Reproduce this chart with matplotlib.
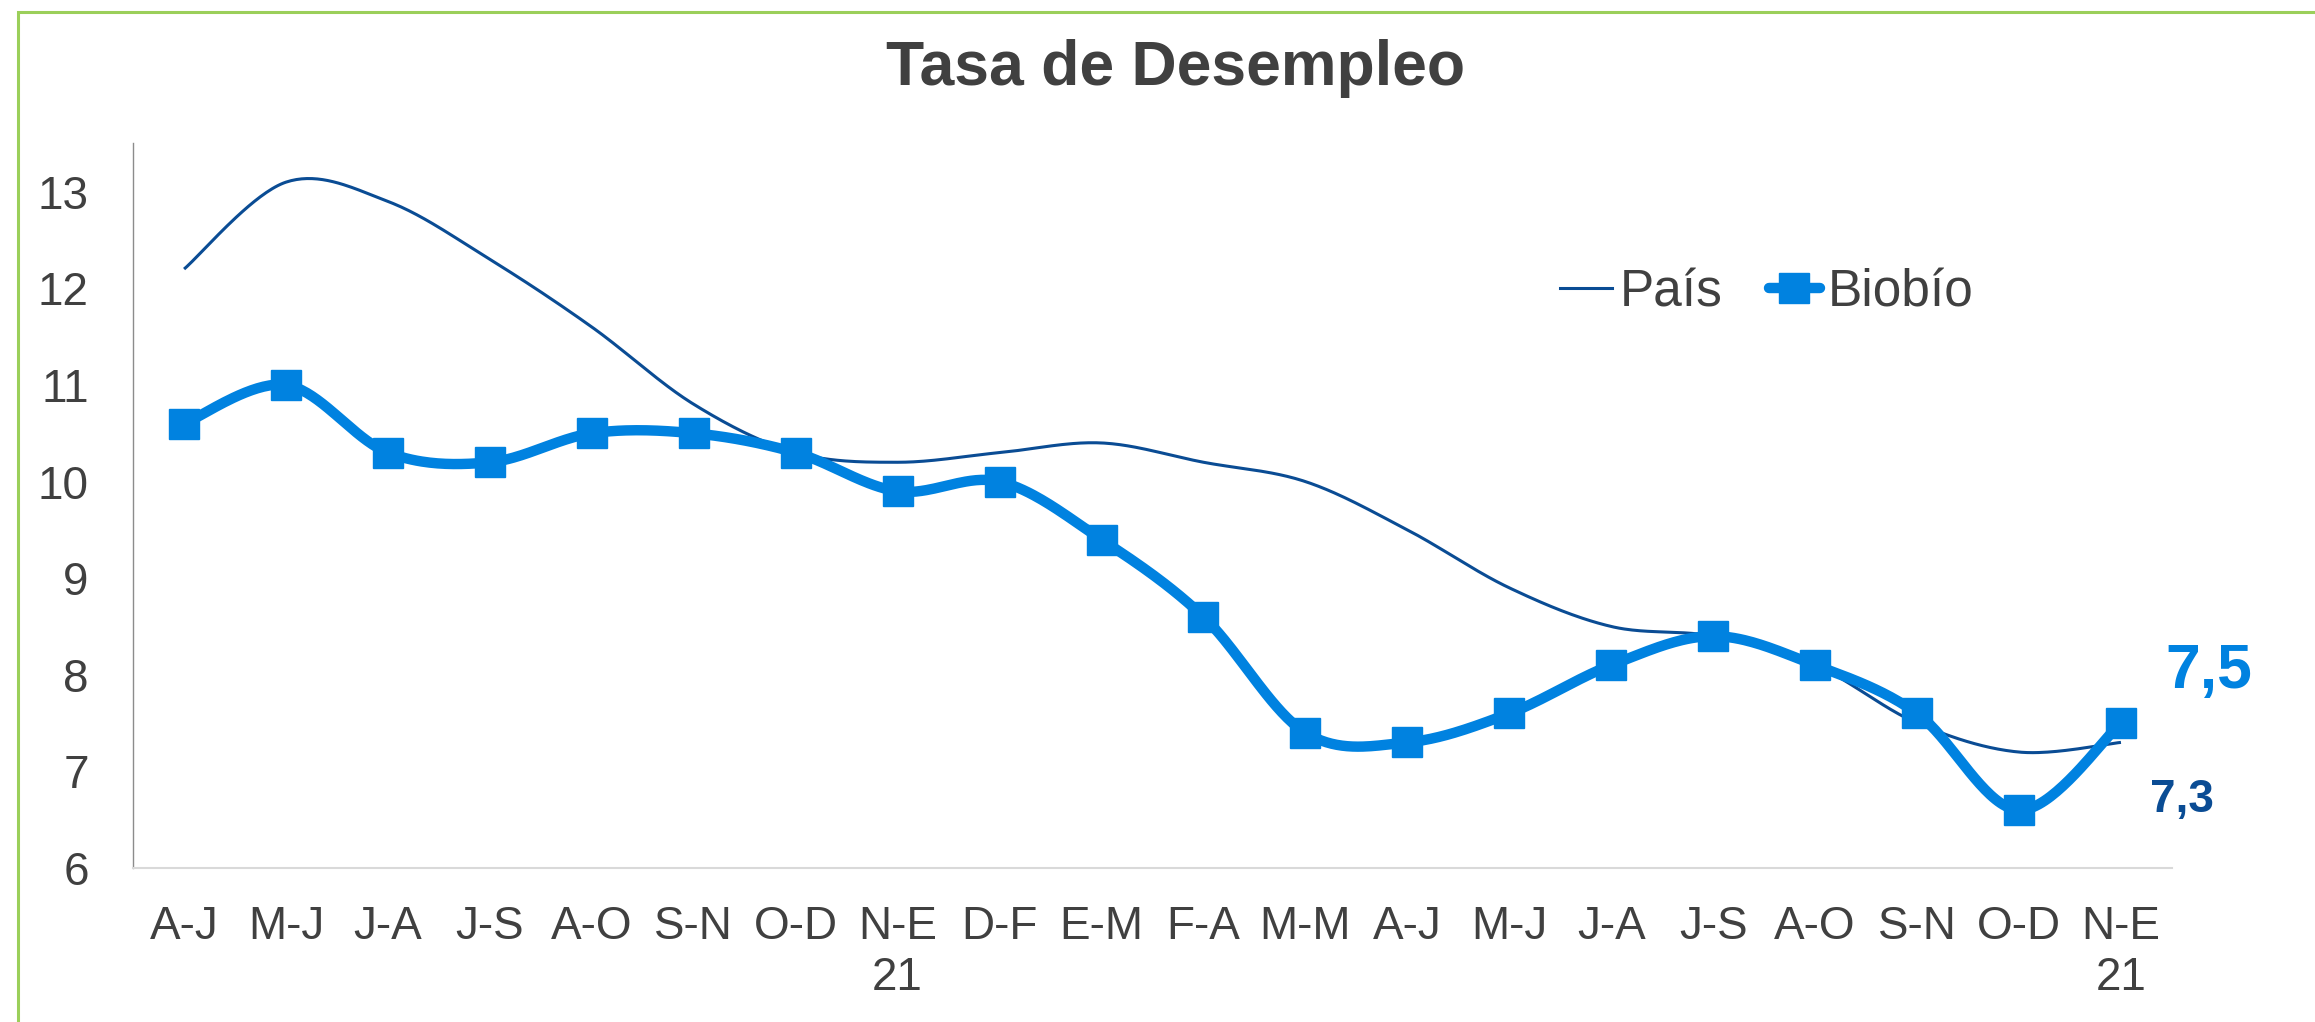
import numpy as np
import matplotlib.pyplot as plt
from matplotlib.lines import Line2D
from matplotlib.patches import Rectangle

plt.rcParams['font.family'] = ['Liberation Sans', 'DejaVu Sans']

# rolling quarters
periodos = ["A-J", "M-J", "J-A", "J-S", "A-O", "S-N", "O-D", "N-E\n21", "D-F", "E-M",
            "F-A", "M-M", "A-J", "M-J", "J-A", "J-S", "A-O", "S-N", "O-D", "N-E\n21"]
pais = [12.2, 13.1, 12.9, 12.3, 11.6, 10.8, 10.3, 10.2, 10.3, 10.4,
        10.2, 10.0, 9.5, 8.9, 8.5, 8.4, 8.1, 7.5, 7.2, 7.3]
biobio = [10.6, 11.0, 10.3, 10.2, 10.5, 10.5, 10.3, 9.9, 10.0, 9.4,
          8.6, 7.4, 7.3, 7.6, 8.1, 8.4, 8.1, 7.6, 6.6, 7.5]

gris = "#404040"
c_pais = "#0A4C94"
c_bio = "#0082E0"


def suavizar(x, y, n=40):
    # Excel style smoothed line: bezier through each pair of points
    x = np.asarray(x, float)
    y = np.asarray(y, float)
    px = np.concatenate([[x[0]], x, [x[-1]]])
    py = np.concatenate([[y[0]], y, [y[-1]]])
    t = np.linspace(0, 1, n)
    xs, ys = [], []
    for i in range(1, len(px) - 2):
        p0 = np.array([px[i], py[i]])
        p3 = np.array([px[i + 1], py[i + 1]])
        p1 = p0 + (p3 - np.array([px[i - 1], py[i - 1]])) / 6
        p2 = p3 - (np.array([px[i + 2], py[i + 2]]) - p0) / 6
        b = ((1 - t) ** 3)[:, None] * p0 + (3 * (1 - t) ** 2 * t)[:, None] * p1 \
            + (3 * (1 - t) * t ** 2)[:, None] * p2 + (t ** 3)[:, None] * p3
        xs.append(b[:, 0])
        ys.append(b[:, 1])
    return np.concatenate(xs), np.concatenate(ys)


fig = plt.figure(figsize=(23.15, 10.22), dpi=100)
ax = fig.add_axes([0.0575, 0.1507, 0.8807, 0.7089])

x = np.arange(len(periodos))
sx, sy = suavizar(x, pais)
ax.plot(sx, sy, color=c_pais, lw=2.2, solid_capstyle='butt')
bx, by = suavizar(x, biobio)
ax.plot(bx, by, color=c_bio, lw=7.5, solid_capstyle='round')
ax.plot(x, biobio, ls='none', marker='s', ms=22, color=c_bio)

ax.set_xlim(-0.5, len(periodos) - 0.5)
ax.set_ylim(6, 13.5)
ax.set_yticks(range(6, 14))
ax.set_xticks(x)
ax.set_xticklabels(periodos)
ax.tick_params(axis='both', length=0, labelsize=33, labelcolor=gris)
ax.tick_params(axis='y', pad=32)
ax.tick_params(axis='x', pad=27)

for s in ['top', 'right']:
    ax.spines[s].set_visible(False)
ax.spines['left'].set_color('#8c8c8c')
ax.spines['left'].set_linewidth(1.0)
ax.spines['bottom'].set_color('#d9d9d9')
ax.spines['bottom'].set_linewidth(1.5)

# last value labels
ax.annotate("7,5", (x[-1], biobio[-1]), xytext=(63, 25), textcoords='offset points',
            ha='center', va='baseline', fontsize=45, fontweight='bold', color=c_bio)
ax.annotate("7,3", (x[-1], pais[-1]), xytext=(44, -50), textcoords='offset points',
            ha='center', va='baseline', fontsize=33, fontweight='bold', color=c_pais)

handles = [Line2D([], [], color=c_pais, lw=2.2),
           Line2D([], [], color=c_bio, lw=7.5, marker='s', ms=22, solid_capstyle='round')]
ax.legend(handles, ["País", "Biobío"], loc='center left', bbox_to_anchor=(0.69, 0.794),
          ncol=2, frameon=False, fontsize=37, labelcolor=gris, handlelength=1.0,
          handletextpad=0.15, columnspacing=0.9, borderaxespad=0)

fig.text(0.508, 0.933, "Tasa de Desempleo", ha='center', va='center',
         fontsize=45, fontweight='bold', color=gris)

# green frame of the chart area
fig.patches.append(Rectangle((18 / 2315, -0.05), 1.2, 1 - 12 / 1022 + 0.05,
                             transform=fig.transFigure, fill=False,
                             edgecolor='#9BCF5A', lw=2.2))

fig.savefig("out.png", dpi=100, facecolor='white')
